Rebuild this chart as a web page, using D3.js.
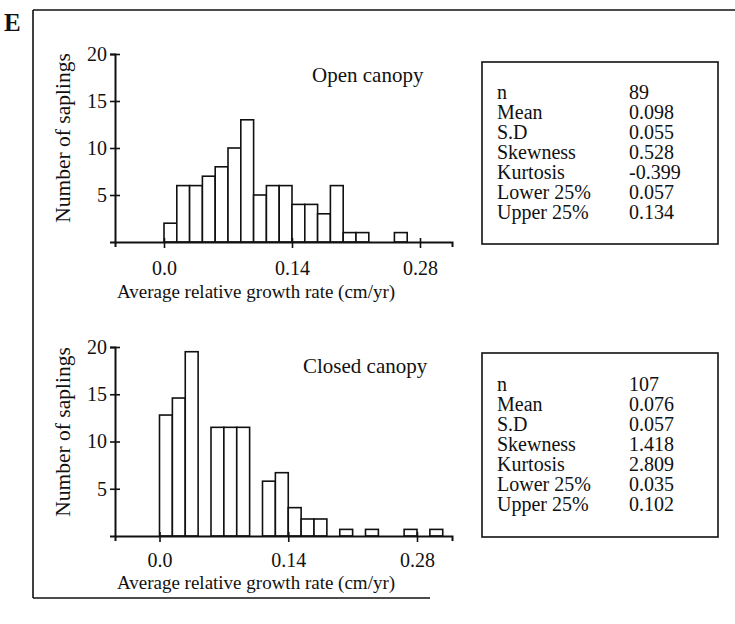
<!DOCTYPE html>
<html>
<head>
<meta charset="utf-8">
<script src="https://cdn.jsdelivr.net/npm/d3@7"></script>
<style>
  html, body { margin: 0; padding: 0; background: #fff; }
  svg { display: block; }
  text { font-family: "Liberation Serif", "Times New Roman", serif; fill: #111; }
</style>
</head>
<body>
<script>
// ---------------- DATA ----------------
const binWidth = 0.014;
// counts per bin starting at 0.0 (bin width 0.014)
const openCounts   = [2, 6, 6, 7, 8, 10, 13, 5, 6, 6, 4, 4, 3, 6, 1, 1, 0, 0, 1];
const closedCounts = [12.8, 14.6, 19.5, 0, 11.5, 11.5, 11.5, 0, 5.8, 6.7, 3.0, 1.8, 1.8, 0, 0.7, 0, 0.7, 0, 0, 0.7, 0, 0.7];
const xTickValues = [0, 0.14, 0.28];
const xTickLabels = ["0.0", "0.14", "0.28"];
const yTickValues = [5, 10, 15, 20];
const statLabels = ["n", "Mean", "S.D", "Skewness", "Kurtosis", "Lower 25%", "Upper 25%"];
const openStats   = ["89", "0.098", "0.055", "0.528", "-0.399", "0.057", "0.134"];
const closedStats = ["107", "0.076", "0.057", "1.418", "2.809", "0.035", "0.102"];
const panelTitles = ["Open canopy", "Closed canopy"];
const xAxisTitle = "Average relative growth rate (cm/yr)";
const yAxisTitle = "Number of saplings";
const figureLetter = "E";

// ---------------- LAYOUT ----------------
const W = 735, H = 624;
const svg = d3.select("body").append("svg").attr("width", W).attr("height", H);

// figure frame
const frame = svg.append("g").attr("stroke", "#111").attr("fill", "none").attr("stroke-width", 1.6);
frame.append("line").attr("x1", 33).attr("y1", 10).attr("x2", 735).attr("y2", 10);
frame.append("line").attr("x1", 33).attr("y1", 10).attr("x2", 33).attr("y2", 598);
frame.append("line").attr("x1", 33).attr("y1", 598).attr("x2", 430).attr("y2", 598);

svg.append("text").attr("x", 4).attr("y", 31)
  .style("font-size", "25px").style("font-weight", "bold").text(figureLetter);

const panels = [
  { counts: openCounts,   stats: openStats,   title: panelTitles[0],
    axisX: 115, x0: 164,   x28: 420,  xEnd: 452, yBase: 242, yTop: 54,
    titleX: 312, titleY: 82, box: [482, 62, 236, 182], rowY: 92, xLabY: 298, tickLabY: 268, yLabY: 138 },
  { counts: closedCounts, stats: closedStats, title: panelTitles[1],
    axisX: 115, x0: 159.5, x28: 417,  xEnd: 452, yBase: 536, yTop: 347,
    titleX: 303, titleY: 373, box: [482, 353, 236, 184], rowY: 384, xLabY: 589, tickLabY: 560, yLabY: 432 }
];

panels.forEach(p => {
  const g = svg.append("g");
  const x = d3.scaleLinear().domain([0, 0.28]).range([p.x0, p.x28]);
  const y = d3.scaleLinear().domain([0, 20]).range([p.yBase, p.yTop]);
  const xAxisScale = x.copy().domain([x.invert(p.axisX), x.invert(p.xEnd)]).range([p.axisX, p.xEnd]);

  // bars
  const bins = p.counts.map((c, i) => ({ x0: i * binWidth, x1: (i + 1) * binWidth, c }));
  g.append("g").selectAll("rect").data(bins.filter(d => d.c > 0)).join("rect")
    .attr("x", d => x(d.x0))
    .attr("width", d => x(d.x1) - x(d.x0))
    .attr("y", d => y(d.c))
    .attr("height", d => y(0) - y(d.c))
    .attr("fill", "#fff").attr("stroke", "#111").attr("stroke-width", 1.6);

  // x axis
  const xa = g.append("g").attr("transform", `translate(0,${p.yBase})`)
    .call(d3.axisBottom(xAxisScale).tickValues(xTickValues).tickSizeOuter(0).tickSize(5)
      .tickFormat((d, i) => xTickLabels[i]));
  xa.select(".domain").attr("stroke", "#111").attr("stroke-width", 2);
  xa.selectAll(".tick line").attr("y1", -4).attr("y2", 6).attr("stroke", "#111").attr("stroke-width", 1.6);
  xa.selectAll(".tick text").attr("y", p.tickLabY - p.yBase).attr("dy", "0.35em")
    .style("font-size", "20px").style("font-family", "Liberation Serif").attr("fill", "#111");

  // y axis
  const ya = g.append("g").attr("transform", `translate(${p.axisX},0)`)
    .call(d3.axisLeft(y).tickValues(yTickValues).tickSizeOuter(0).tickSize(5));
  ya.select(".domain").attr("stroke", "#111").attr("stroke-width", 2);
  ya.selectAll(".tick line").attr("x1", 5).attr("x2", -5).attr("stroke", "#111").attr("stroke-width", 1.6);
  ya.selectAll(".tick text").attr("x", -8)
    .style("font-size", "20px").style("font-family", "Liberation Serif").attr("fill", "#111");

  // axis titles
  g.append("text").attr("x", 256).attr("y", p.xLabY)
    .attr("text-anchor", "middle").style("font-size", "19px").text(xAxisTitle);
  g.append("text").attr("transform", `translate(70,${p.yLabY}) rotate(-90)`)
    .attr("text-anchor", "middle").style("font-size", "21.5px").text(yAxisTitle);

  // panel title
  g.append("text").attr("x", p.titleX).attr("y", p.titleY).style("font-size", "21px").text(p.title);

  // stats box
  const [bx, by, bw, bh] = p.box;
  g.append("rect").attr("x", bx).attr("y", by).attr("width", bw).attr("height", bh)
    .attr("fill", "none").attr("stroke", "#111").attr("stroke-width", 1.6);
  const rows = g.append("g").selectAll("g").data(statLabels).join("g")
    .attr("transform", (d, i) => `translate(0,${p.rowY + i * 20})`);
  rows.append("text").attr("x", bx + 15).attr("dy", "0.35em").style("font-size", "20px").text(d => d);
  rows.append("text").attr("x", bx + 147).attr("dy", "0.35em").style("font-size", "20px").text((d, i) => p.stats[i]);
});
</script>
</body>
</html>
